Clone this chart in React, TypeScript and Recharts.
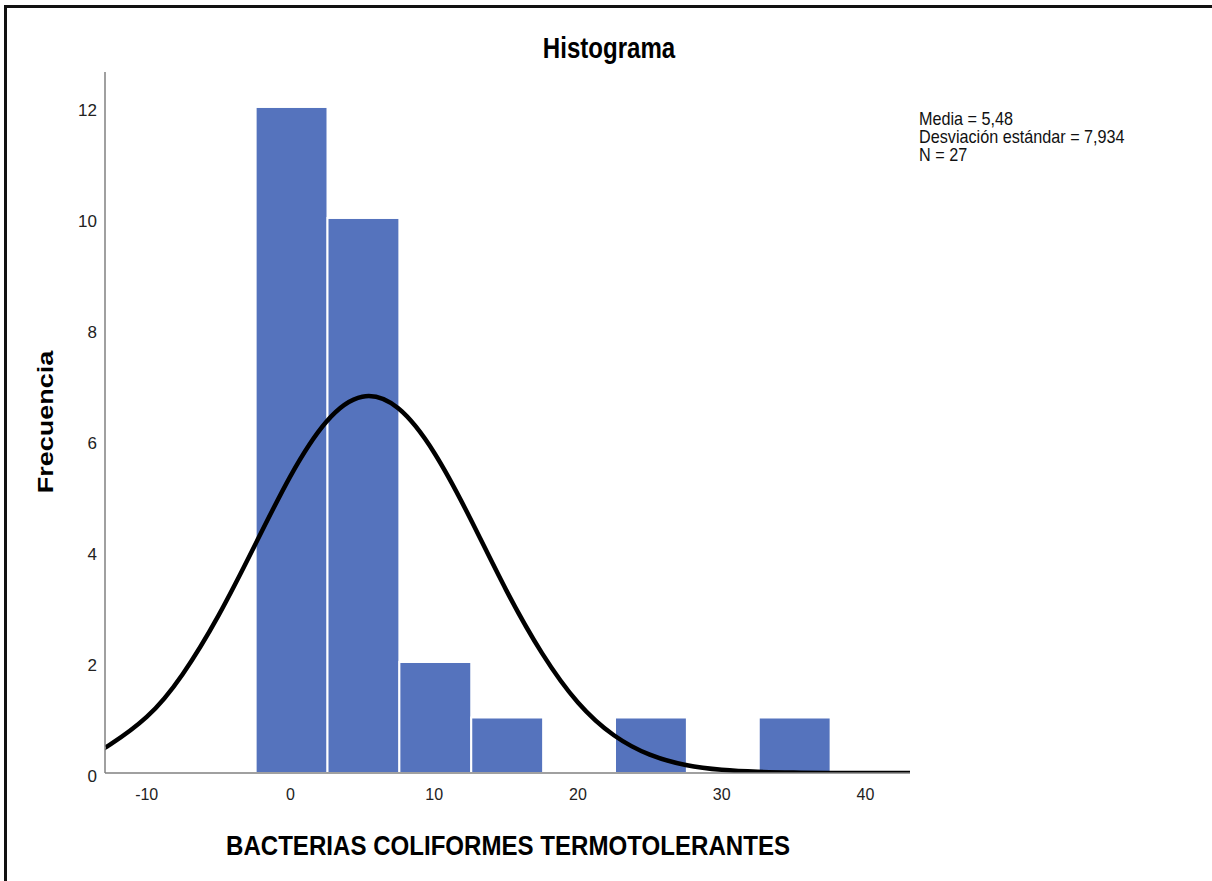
import { ComposedChart, Bar, Line, XAxis, YAxis } from "recharts";

// histogram bins (centre of each 5-wide bin) and their counts
const binCenters = [0, 5, 10, 15, 25, 35];
const binCounts = [12, 10, 2, 1, 1, 1];
const binWidth = 5;

// normal curve
const curveX = [-13, -12.5, -10, -7.5, -5, -2.5, 0, 2.5, 5, 7.5, 10, 12.5, 15, 17.5, 20, 22.5, 25, 27.5, 30, 32.5, 35, 37.5, 40, 42.5, 43.5];
const curveY = [0.45, 0.52, 1.01, 1.78, 2.84, 4.09, 5.35, 6.33, 6.78, 6.57, 5.77, 4.59, 3.3, 2.16, 1.27, 0.68, 0.33, 0.144, 0.057, 0.021, 0.007, 0.002, 0.0005, 0.0001, 0];

const xTicks = [-10, 0, 10, 20, 30, 40];
const yTicks = [0, 2, 4, 6, 8, 10, 12];
const xDomain = [-12.9, 43.1];

const statLines = ["Media = 5,48", "Desviación estándar = 7,934", "N = 27"];

const bins = binCenters.map((x, i) => ({ x, count: binCounts[i] }));
const curve = curveX.map((x, i) => ({ x, y: curveY[i] }));

const FONT = "'Liberation Sans', Arial, sans-serif";
const W = 1212, H = 881;
const M = { top: 72, right: 302, bottom: 78, left: 45 };
const Y_W = 60;
// pixel width of one bin, from the x scale
const plotW = W - M.left - M.right - Y_W;
const binPx = (plotW / (xDomain[1] - xDomain[0])) * binWidth;

function BinRect(props: any) {
  const { x, y, width, height } = props;
  if (!height) return null;
  const cx = x + width / 2 + 1;
  return <rect x={cx - binPx / 2} y={y} width={binPx} height={height} fill="#5573BD" stroke="#fff" strokeWidth={2} />;
}

export default function App() {
  return (
    <div style={{ position: "absolute", left: 0, top: 0, width: W, height: H, background: "#fff", overflow: "hidden", fontFamily: FONT }}>
      <ComposedChart width={W} height={H} data={bins} margin={M}>
        <XAxis dataKey="x" type="number" domain={xDomain} allowDataOverflow ticks={xTicks}
          tickLine={false} tickMargin={10} axisLine={{ stroke: "#808080", strokeWidth: 1.5 }}
          tick={{ fontSize: 16, fill: "#222", fontFamily: FONT }} height={30} />
        <YAxis type="number" domain={[0, 12.63]} allowDataOverflow ticks={yTicks} width={Y_W}
          tickLine={false} axisLine={{ stroke: "#808080", strokeWidth: 1.5 }}
          tick={{ fontSize: 17, fill: "#222", fontFamily: FONT, dy: 3 }} />
        <Bar dataKey="count" fill="#5573BD" shape={BinRect} isAnimationActive={false} />
        <Line data={curve} dataKey="y" type="natural" stroke="#000" strokeWidth={4.5} dot={false} activeDot={false} isAnimationActive={false} />
      </ComposedChart>
      <svg width={W} height={H} style={{ position: "absolute", left: 0, top: 0, pointerEvents: "none" }}>
        <rect x={4} y={5} width={1208} height={3} fill="#111" />
        <rect x={4} y={5} width={3} height={876} fill="#111" />
        <g transform="translate(609,58) scale(0.83,1)">
          <text textAnchor="middle" fontSize={29} fontWeight="bold" fill="#000" fontFamily={FONT}>Histograma</text>
        </g>
        <g transform="translate(508,855) scale(0.86,1)">
          <text textAnchor="middle" fontSize={28} fontWeight="bold" fill="#000" fontFamily={FONT}>BACTERIAS COLIFORMES TERMOTOLERANTES</text>
        </g>
        <g transform="translate(53,422) scale(0.84,1) rotate(-90)">
          <text textAnchor="middle" fontSize={27} fontWeight="bold" fill="#000" fontFamily={FONT}>Frecuencia</text>
        </g>
        {statLines.map((s, i) => (
          <g key={s} transform={`translate(919,${125 + i * 18}) scale(0.9,1)`}>
            <text fontSize={18} fill="#111" fontFamily={FONT}>{s}</text>
          </g>
        ))}
      </svg>
    </div>
  );
}
